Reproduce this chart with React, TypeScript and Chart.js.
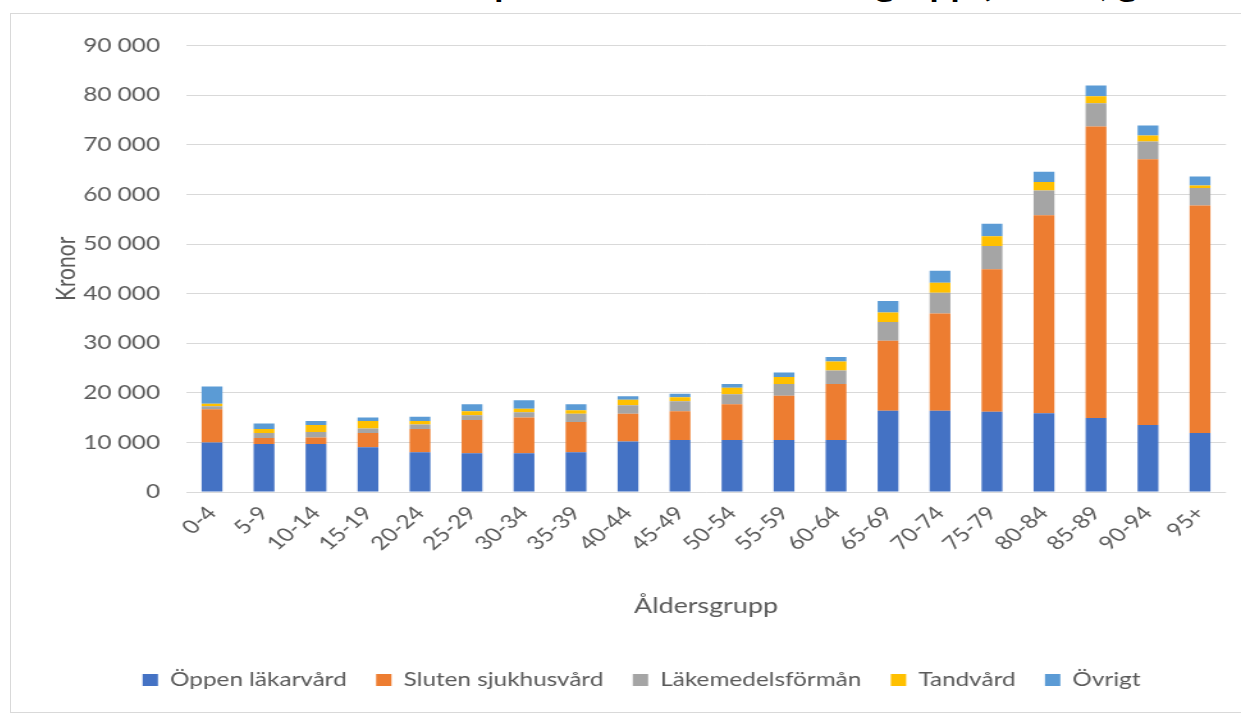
import React, { useEffect, useRef } from "react";
import { Chart, registerables } from "chart.js";

Chart.register(...registerables);

const categories = [
  "0-4", "5-9", "10-14", "15-19", "20-24", "25-29", "30-34", "35-39", "40-44", "45-49",
  "50-54", "55-59", "60-64", "65-69", "70-74", "75-79", "80-84", "85-89", "90-94", "95+",
];

const oppenLakarvard = [10000, 9700, 9700, 9000, 8000, 7800, 7800, 8000, 10200, 10500, 10500, 10500, 10500, 16400, 16400, 16200, 15900, 14900, 13500, 11900];
const slutenSjukhusvard = [6700, 1200, 1300, 2900, 4700, 6700, 7200, 6100, 5600, 5800, 7200, 8900, 11300, 14100, 19600, 28700, 39900, 58800, 53600, 45900];
const lakemedelsforman = [600, 1000, 1100, 900, 900, 1000, 1100, 1700, 1700, 2000, 2000, 2400, 2700, 3800, 4200, 4700, 5000, 4700, 3600, 3500];
const tandvard = [500, 800, 1400, 1500, 700, 800, 700, 700, 1100, 800, 1300, 1400, 1800, 1900, 2000, 2000, 1700, 1400, 1200, 500];
const ovrigt = [3500, 1100, 800, 700, 900, 1400, 1700, 1200, 700, 700, 800, 900, 900, 2300, 2400, 2500, 2100, 2200, 2000, 1800];

const seriesNames = ["Öppen läkarvård", "Sluten sjukhusvård", "Läkemedelsförmån", "Tandvård", "Övrigt"];
const seriesColors = ["#4472C4", "#ED7D31", "#A5A5A5", "#FFC000", "#5B9BD5"];

const yMin = 0;
const yMax = 90000;
const yStep = 10000;

const titleText = "Kostnader per invånare och åldersgrupp (kronor, genomsnitt)";
const yTitle = "Kronor";
const xTitle = "Åldersgrupp";

const FONT = "Lato, 'Open Sans', sans-serif";
const TEXT_COLOR = "#595959";

// the reference picture is stretched horizontally; draw narrower and stretch
const STRETCH = 1.28;
const FRAME_W = 1230;
const FRAME_H = 698;
const CANVAS_W = Math.round(FRAME_W / STRETCH);
const PAD_LEFT = 36;

function formatThousands(v: number): string {
  return String(v).replace(/\B(?=(\d{3})+(?!\d))/g, " ");
}

export default function App() {
  const canvasRef = useRef<HTMLCanvasElement | null>(null);

  useEffect(() => {
    if (!canvasRef.current) return;
    const values = [oppenLakarvard, slutenSjukhusvard, lakemedelsforman, tandvard, ovrigt];
    const chart = new Chart(canvasRef.current, {
      type: "bar",
      data: {
        labels: categories,
        datasets: values.map((d, i) => ({
          label: seriesNames[i],
          data: d,
          backgroundColor: seriesColors[i],
          borderWidth: 0,
          barPercentage: 0.4,
          categoryPercentage: 1.0,
        })),
      },
      options: {
        animation: false,
        responsive: false,
        devicePixelRatio: 1,
        layout: { padding: { top: 25, right: 15 / STRETCH, bottom: 12.5, left: PAD_LEFT } },
        plugins: {
          tooltip: { enabled: false },
          legend: {
            position: "bottom",
            labels: {
              boxWidth: 12,
              boxHeight: 12,
              padding: 23,
              color: TEXT_COLOR,
              font: { family: FONT, size: 19 },
            },
          },
        },
        scales: {
          x: {
            stacked: true,
            grid: { display: false },
            border: { display: false },
            ticks: {
              color: TEXT_COLOR,
              font: { family: FONT, size: 19 },
              minRotation: 47,
              maxRotation: 47,
              padding: 2,
              autoSkip: false,
            },
            title: {
              display: true,
              text: xTitle,
              color: TEXT_COLOR,
              font: { family: FONT, size: 21 },
              padding: { top: 0, bottom: 29 },
            },
            afterFit: (s: any) => {
              s.height = 155.5;
            },
          },
          y: {
            stacked: true,
            min: yMin,
            max: yMax,
            grid: { color: "#d9d9d9", drawTicks: false, lineWidth: 1 },
            border: { display: false },
            ticks: {
              stepSize: yStep,
              color: TEXT_COLOR,
              font: { family: FONT, size: 19 },
              padding: 26 / STRETCH,
              callback: (v: any) => formatThousands(Number(v)),
            },
            title: {
              display: true,
              text: yTitle,
              color: TEXT_COLOR,
              font: { family: FONT, size: 21 },
              padding: { top: 55 / STRETCH - 12.6 - PAD_LEFT, bottom: 0 },
            },
            afterFit: (s: any) => {
              s.width = 175 / STRETCH - PAD_LEFT;
            },
          },
        },
      },
    });
    return () => chart.destroy();
  }, []);

  return (
    <div
      style={{
        position: "absolute",
        left: 0,
        top: 0,
        width: 1241,
        height: 715,
        overflow: "hidden",
        background: "#ffffff",
      }}
    >
      <div
        style={{
          position: "absolute",
          left: 316,
          top: -29,
          fontFamily: FONT,
          fontWeight: 700,
          fontSize: 29,
          lineHeight: "29px",
          color: "#000",
          whiteSpace: "nowrap",
          transform: `scaleX(${STRETCH})`,
          transformOrigin: "left top",
        }}
      >
        {titleText}
      </div>
      <div
        style={{
          position: "absolute",
          left: 10,
          top: 13,
          width: 1240,
          height: FRAME_H,
          border: "1px solid #d9d9d9",
          background: "#fff",
        }}
      >
        <canvas
          ref={canvasRef}
          width={CANVAS_W}
          height={FRAME_H}
          style={{ display: "block", width: FRAME_W, height: FRAME_H }}
        />
      </div>
    </div>
  );
}
